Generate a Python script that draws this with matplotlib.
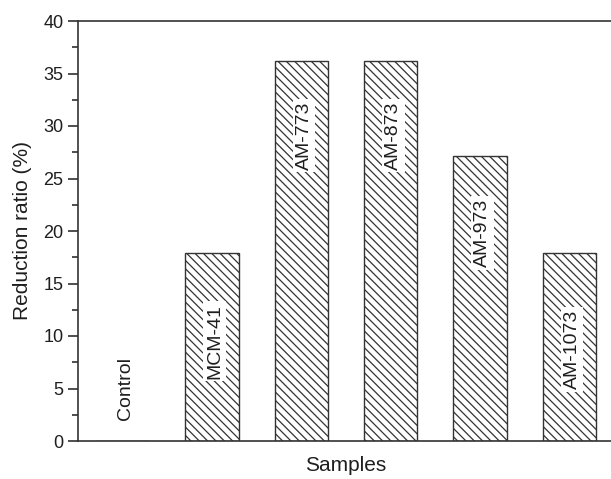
import matplotlib
matplotlib.use("Agg")
import matplotlib.pyplot as plt
from matplotlib.ticker import MultipleLocator

plt.rcParams['font.family'] = ['Liberation Sans', 'DejaVu Sans']
plt.rcParams['hatch.linewidth'] = 0.9
plt.rcParams['hatch.color'] = '#333333'

# Samples and their reduction ratios (%)
samples = ["Control", "MCM-41", "AM-773", "AM-873", "AM-973", "AM-1073"]
reduction = [0.0, 17.9, 36.2, 36.2, 27.1, 17.9]
# vertical placement of each in-bar label (data units)
label_y = [5.0, 9.5, 29.1, 29.1, 19.8, 8.7]

fig = plt.figure(figsize=(6.11, 4.79), dpi=100)
ax = fig.add_axes([78 / 611, 38 / 479, 536 / 611, 420 / 479])

x = list(range(len(samples)))
ax.bar(x, reduction, width=0.6, color='white', edgecolor='#333333',
       linewidth=1.0, hatch='\\\\\\\\')

for xi, lab, ly in zip(x, samples, label_y):
    ax.text(xi + 0.03, ly, lab, rotation=90, ha='center', va='center',
            fontsize=14, color='#1e1e1e',
            bbox=dict(facecolor='white', edgecolor='none', pad=2.0))

ax.set_xlim(-0.5, 5.5)
ax.set_ylim(0, 40)
ax.yaxis.set_major_locator(MultipleLocator(5))
ax.yaxis.set_minor_locator(MultipleLocator(2.5))
ax.set_xticks([])
ax.tick_params(axis='y', which='major', direction='out', length=7, width=1.1,
               labelsize=13, colors='#1e1e1e')
ax.tick_params(axis='y', which='minor', direction='out', length=4, width=1.1,
               colors='#1e1e1e')
for s in ax.spines.values():
    s.set_linewidth(1.2)
    s.set_color('#333333')

ax.set_xlabel("Samples", fontsize=15, labelpad=11, color='#1e1e1e')
ax.set_ylabel("Reduction ratio (%)", fontsize=15, labelpad=8, color='#1e1e1e')

fig.savefig("out.png", dpi=100)
